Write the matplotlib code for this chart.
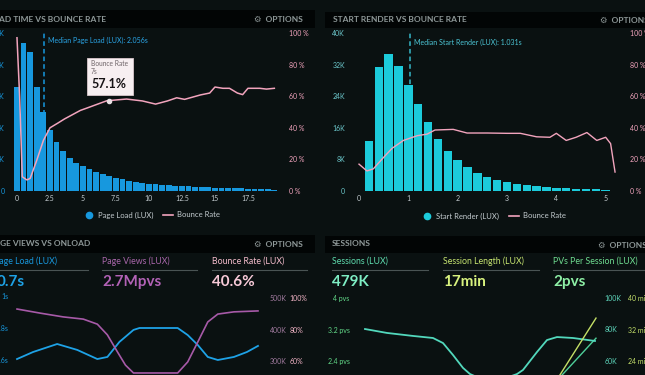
import matplotlib.pyplot as plt
from matplotlib.lines import Line2D
from matplotlib.patches import Rectangle

plt.rcParams['font.family'] = ['Lato', 'DejaVu Sans']

W, H = 645, 375

# --- page load time vs bounce rate (seconds / thousands of loads / %)
load_x = [0.0, 0.5, 1.0, 1.5, 2.0, 2.5, 3.0, 3.5, 4.0, 4.5,
          5.0, 5.5, 6.0, 6.5, 7.0, 7.5, 8.0, 8.5, 9.0, 9.5,
          10.0, 10.5, 11.0, 11.5, 12.0, 12.5, 13.0, 13.5, 14.0, 14.5,
          15.0, 15.5, 16.0, 16.5, 17.0, 17.5, 18.0, 18.5, 19.0, 19.5]
load_k = [32.9, 46.8, 44.0, 32.9, 25.0, 19.3, 15.5, 12.7, 10.4, 8.9,
          7.9, 7.0, 6.0, 5.4, 4.7, 4.1, 3.8, 3.2, 2.8, 2.5,
          2.3, 2.1, 2.0, 1.9, 1.7, 1.6, 1.5, 1.4, 1.3, 1.2,
          1.1, 1.0, 0.95, 0.9, 0.8, 0.7, 0.65, 0.6, 0.5, 0.4]
load_bounce_x = [0.0, 0.2, 0.4, 0.75, 1.0, 1.5, 2.0, 2.5, 3.1, 3.6, 4.8, 5.3,
                 6.8, 8.3, 9.5, 10.5, 11.4, 12.1, 12.7, 13.9, 14.6, 15.0,
                 15.6, 16.1, 16.7, 17.1, 17.5, 18.4, 18.9, 19.5]
load_bounce = [97, 60, 9, 7, 8, 19.5, 32, 40, 43, 45.6, 51, 52.5,
               57.1, 58.2, 57, 55, 57, 59, 58, 60.8, 62, 65.8,
               65, 65, 62, 61, 65, 65, 64.5, 65]
load_median = 2.056

# --- start render vs bounce rate
render_x = [0.2, 0.4, 0.6, 0.8, 1.0, 1.2, 1.4, 1.6, 1.8, 2.0,
            2.2, 2.4, 2.6, 2.8, 3.0, 3.2, 3.4, 3.6, 3.8, 4.0,
            4.2, 4.4, 4.6, 4.8, 5.0]
render_k = [12.7, 31.4, 34.7, 31.6, 26.8, 22.0, 17.5, 13.2, 10.1, 7.8,
            6.1, 4.6, 3.5, 2.8, 2.3, 1.8, 1.5, 1.3, 1.0, 0.8,
            0.65, 0.55, 0.45, 0.4, 0.3]
render_bounce_x = [0.0, 0.16, 0.29, 0.49, 0.67, 0.9, 1.18, 1.38, 1.54, 1.91,
                   2.19, 2.6, 3.0, 3.27, 3.6, 3.87, 4.0, 4.2, 4.4, 4.62,
                   4.82, 5.0, 5.1, 5.19]
render_bounce = [17, 12.7, 14, 21, 27, 32, 35, 36, 38.6, 39,
                 36.7, 36.7, 36.5, 36.5, 34.3, 34, 36.5, 32, 34, 37,
                 32, 34, 30, 12]
render_median = 1.031

# --- page views vs onload
pv_x_load = [0, 0.8, 2.0, 3.0, 4.0, 4.5, 5.1, 5.8, 6.1, 8.0, 8.5, 9.0,
             9.5, 10.0, 10.8, 11.45, 12.0]
pv_load_s = [0.606, 0.65, 0.70, 0.663, 0.606, 0.619, 0.713, 0.788, 0.8, 0.8,
             0.756, 0.694, 0.619, 0.6, 0.619, 0.65, 0.688]
pv_x_views = [0, 1.15, 2.3, 3.3, 4.0, 4.5, 5.0, 5.4, 5.8, 8.0, 8.5, 9.0,
              9.5, 10.0, 10.8, 12.0]
pv_views_k = [465, 452, 440, 433, 417, 383, 329, 287, 262, 262,
              297, 360, 424, 449, 456, 459]

# --- sessions
ses_x = [0, 1.1, 2.4, 3.4, 3.9, 4.4, 4.9, 5.25, 5.75, 7.0, 7.6, 7.9,
         8.6, 9.1, 9.6, 10.4, 11.5]
ses_k = [80.3, 77.8, 75.9, 74.6, 71.4, 63.8, 55.6, 51.7, 49, 49, 51.7, 54.3,
         65.7, 73.3, 75.2, 74.6, 72.7]
len_x = [8.95, 11.55]
len_min = [14.1, 34.9]
pps_x = [8.7, 11.55]
pps = [1.41, 2.98]

bg = '#0a1111'
band = '#020505'
grey = '#8e9898'
blue = '#1798de'
cyan = '#1ccbdb'
pink = '#f2a4bd'
purple = '#a75aa8'
teal = '#52d8bc'
lime = '#c4e066'
green = '#4ecf9a'


def box(x0, y0, x1, y1):
    return [x0 / W, 1 - y1 / H, (x1 - x0) / W, (y1 - y0) / H]


def clean(ax):
    ax.set_facecolor('none')
    for s in ax.spines.values():
        s.set_visible(False)
    ax.tick_params(length=0, labelsize=5)


def ftext(x, y, s, **kw):
    fig.text(x / W, 1 - y / H, s, va='center', **kw)


def header(x0, x1, y0, y1):
    fig.add_artist(Rectangle((x0 / W, 1 - y1 / H), (x1 - x0) / W, (y1 - y0) / H,
                             transform=fig.transFigure, fc=band, ec='none', zorder=0))


def stat(x, label, value, color, vcolor, lx0, lx1, ha='left', vx=None):
    ftext(x, 261, label, color=color, fontsize=6.3, ha=ha)
    ftext(x if vx is None else vx, 282, value, color=vcolor, fontsize=11,
          fontweight='bold', ha=ha)
    fig.add_artist(Line2D([lx0 / W, lx1 / W], [1 - 269.5 / H, 1 - 269.5 / H],
                          transform=fig.transFigure, color='#4a5454', lw=0.8))


fig = plt.figure(figsize=(W / 100, H / 100), dpi=100, facecolor=bg)

# headers
header(0, 315, 10, 28)
header(325, 645, 12, 28)
header(0, 315, 235, 253)
header(325, 645, 236, 253)
hkw = dict(color=grey, fontsize=6, fontweight='bold')
ftext(106, 19, 'PAGE LOAD TIME VS BOUNCE RATE', ha='right', **hkw)
ftext(303, 19, '⚙  OPTIONS', ha='right', **hkw)
ftext(333, 20, 'START RENDER VS BOUNCE RATE', ha='left', **hkw)
ftext(600, 20, '⚙  OPTIONS', ha='left', **hkw)
ftext(90, 244, 'PAGE VIEWS VS ONLOAD', ha='right', **hkw)
ftext(303, 244, '⚙  OPTIONS', ha='right', **hkw)
ftext(332, 244, 'SESSIONS', ha='left', **hkw)
ftext(598, 245, '⚙  OPTIONS', ha='left', **hkw)

# ---------------- top left
ax = fig.add_axes(box(10, 33, 282, 191))
clean(ax)
ax.bar(load_x, load_k, width=0.44, color=blue, zorder=2)
ax.axvline(load_median, color=blue, lw=1.1, ls=(0, (3, 2)), zorder=1)
ax.text(load_median + 0.3, 47.5, 'Median Page Load (LUX): 2.056s', color='#2aa6e8',
        fontsize=5, va='center')
ax.set_xlim(-0.53, 20.08)
ax.set_ylim(0, 50)
ax.set_yticks([0, 10, 20, 30, 40, 50], ['0', '10K', '20K', '30K', '40K', '50K'])
ax.set_xticks([0, 2.5, 5, 7.5, 10, 12.5, 15, 17.5],
              ['0', '2.5', '5', '7.5', '10', '12.5', '15', '17.5'])
ax.tick_params(axis='y', colors=blue, pad=4)
ax.tick_params(axis='x', colors='#c4ccd0', pad=3)
ax2 = ax.twinx()
clean(ax2)
ax2.plot(load_bounce_x, load_bounce, color=pink, lw=1.1)
ax2.plot([7], [57.1], marker='o', ms=3, color='#e8e0e4')
ax2.set_ylim(0, 100)
ax2.set_yticks([0, 20, 40, 60, 80, 100], ['0 %', '20 %', '40 %', '60 %', '80 %', '100 %'])
ax2.tick_params(axis='y', colors=pink, pad=5)

# tooltip
fig.add_artist(Rectangle((87 / W, 1 - 95 / H), 46 / W, 37 / H, transform=fig.transFigure,
                         fc='#f7eff1', ec='#d9c7cc', lw=0.6, zorder=5))
ftext(91, 64, 'Bounce Rate', color='#6e6468', fontsize=4.8, ha='left', zorder=6)
ftext(91, 71, '7s', color='#6e6468', fontsize=4.8, ha='left', zorder=6)
ftext(91, 84, '57.1%', color='#161214', fontsize=9, fontweight='bold', ha='left', zorder=6)

leg_kw = dict(loc='center', ncol=2, frameon=False, fontsize=5.5, labelcolor='#c4ccd0',
              handlelength=1.3, columnspacing=1.3, handletextpad=0.5)
fig.legend(handles=[Line2D([], [], marker='o', ls='none', color=blue, ms=4.5,
                           label='Page Load (LUX)'),
                    Line2D([], [], color=pink, lw=1.2, label='Bounce Rate')],
           bbox_to_anchor=(152 / W, 1 - 215 / H), **leg_kw)

# ---------------- top right
ax = fig.add_axes(box(352, 33, 618, 191))
clean(ax)
ax.bar(render_x, render_k, width=0.17, color=cyan, zorder=2)
ax.axvline(render_median, color='#36b8c8', lw=1.1, ls=(0, (3, 2)), zorder=1)
ax.text(render_median + 0.09, 37.7, 'Median Start Render (LUX): 1.031s', color='#4cc6d6',
        fontsize=5, va='center')
ax.set_xlim(-0.142, 5.25)
ax.set_ylim(0, 40)
ax.set_yticks([0, 8, 16, 24, 32, 40], ['0', '8K', '16K', '24K', '32K', '40K'])
ax.set_xticks([0, 1, 2, 3, 4, 5])
ax.tick_params(axis='y', colors='#6cc8cc', pad=5)
ax.tick_params(axis='x', colors='#c4ccd0', pad=3)
ax2 = ax.twinx()
clean(ax2)
ax2.plot(render_bounce_x, render_bounce, color=pink, lw=1.0)
ax2.set_ylim(0, 100)
ax2.set_yticks([0, 20, 40, 60, 80, 100], ['0 %', '20 %', '40 %', '60 %', '80 %', '100 %'])
ax2.tick_params(axis='y', colors=pink, pad=9)
fig.legend(handles=[Line2D([], [], marker='o', ls='none', color=cyan, ms=4.5,
                           label='Start Render (LUX)'),
                    Line2D([], [], color=pink, lw=1.2, label='Bounce Rate')],
           bbox_to_anchor=(494 / W, 1 - 216 / H), **leg_kw)

# ---------------- bottom left
stat(57, 'Page Load (LUX)', '0.7s', blue, '#1ea2e6', 0, 88, ha='right', vx=25)
stat(102, 'Page Views (LUX)', '2.7Mpvs', '#a866aa', '#b262b6', 102, 197)
stat(212, 'Bounce Rate (LUX)', '40.6%', '#f4bccc', '#f8cad8', 212, 307)

ax = fig.add_axes(box(14, 290, 262, 392))
clean(ax)
ax.plot(pv_x_load, pv_load_s, color='#1ea2e6', lw=1.3)
ax.set_xlim(-0.15, 12.2)
ax.set_ylim(0.4, 1.0375)
ax.set_xticks([])
ax.set_yticks([0.6, 0.8, 1.0], ['0.6s', '0.8s', '1s'])
ax.tick_params(axis='y', colors=blue, pad=4)
ax2 = ax.twinx()
clean(ax2)
ax2.plot(pv_x_views, pv_views_k, color=purple, lw=1.2)
ax2.set_ylim(201.6, 525.4)
ax2.set_yticks([300, 400, 500], ['300K', '400K', '500K'])
ax2.tick_params(axis='y', colors='#a07a9e', pad=5.5)
ax3 = ax.twinx()
clean(ax3)
ax3.set_ylim(40.3, 105.1)
ax3.set_yticks([60, 80, 100], ['60%', '80%', '100%'])
ax3.tick_params(axis='y', colors='#f2b4c6', pad=20)

# ---------------- bottom right
stat(332, 'Sessions (LUX)', '479K', '#5edcae', '#7eeec4', 332, 428)
stat(443, 'Session Length (LUX)', '17min', '#c6e470', '#d8f27e', 443, 539)
stat(553, 'PVs Per Session (LUX)', '2pvs', '#6edc90', '#8ef0a6', 553, 645)

ax = fig.add_axes(box(358, 290, 600, 392))
clean(ax)
ax.plot(pps_x, pps, color=green, lw=1.0)
ax.set_xlim(-0.35, 11.75)
ax.set_ylim(1.614, 4.203)
ax.set_xticks([])
ax.set_yticks([2.4, 3.2, 4.0], ['2.4 pvs', '3.2 pvs', '4 pvs'])
ax.tick_params(axis='y', colors='#62d888', pad=6)
ax2 = ax.twinx()
clean(ax2)
ax2.plot(ses_x, ses_k, color=teal, lw=1.3)
ax2.set_ylim(40.3, 105.08)
ax2.set_yticks([60, 80, 100], ['60K', '80K', '100K'])
ax2.tick_params(axis='y', colors='#5ed6bc', pad=3.5)
ax3 = ax.twinx()
clean(ax3)
ax3.plot(len_x, len_min, color=lime, lw=1.0)
ax3.set_ylim(16.14, 42.03)
ax3.set_yticks([24, 32, 40], ['24 min', '32 min', '40 min'])
ax3.tick_params(axis='y', colors='#c4e06a', pad=20)

fig.savefig('out.png', dpi=100, facecolor=bg)
